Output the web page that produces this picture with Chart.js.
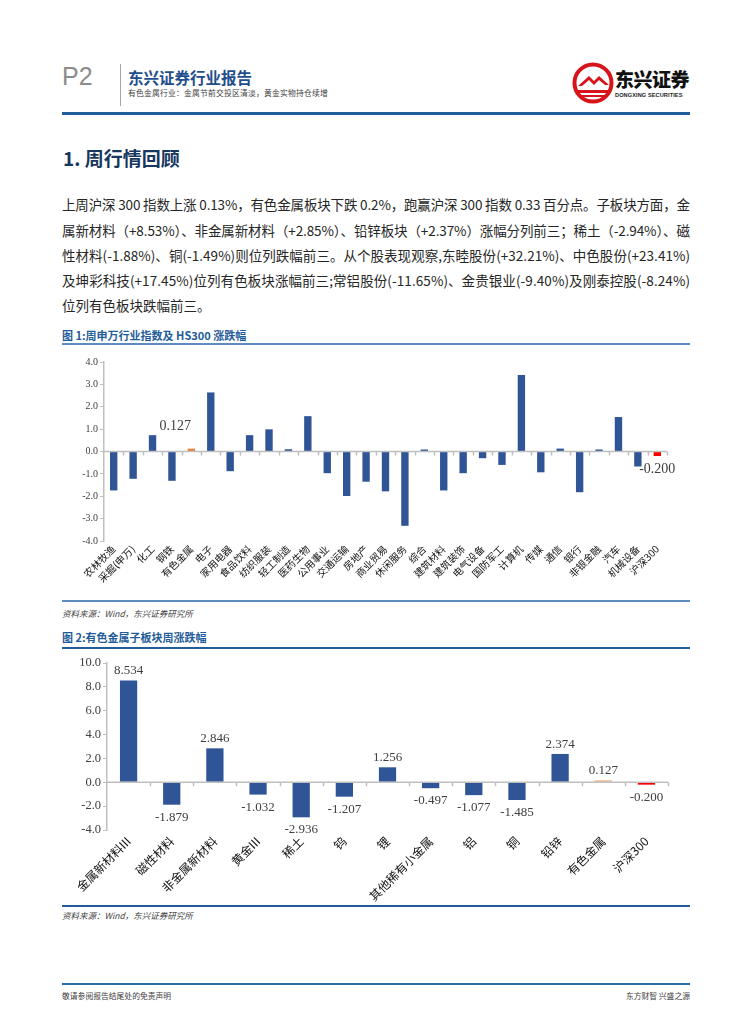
<!DOCTYPE html>
<html>
<head>
<meta charset="utf-8">
<script src="https://cdn.jsdelivr.net/npm/chart.js@4.4.1/dist/chart.umd.min.js"></script>
<style>
  html, body { margin: 0; padding: 0; background: #fff; }
  body { width: 755px; height: 1024px; position: relative; overflow: hidden;
         font-family: "Noto Sans CJK SC", "Noto Sans", sans-serif; color: #222; }
  .abs { position: absolute; }
  .rule { position: absolute; left: 62px; width: 628px; }
  .para-line { position: absolute; left: 62px; width: 628px; font-size: 13.5px; line-height: 20px; white-space: nowrap; color: #262626; }
  .fig-title { position: absolute; left: 62px; font-size: 11px; font-weight: 700; color: #1f5c99; line-height: 14px; }
  .source { position: absolute; left: 62px; font-size: 8.5px; font-style: italic; color: #404040; line-height: 12px; }
  canvas { position: absolute; left: 62px; }
</style>
</head>
<body>

<!-- header -->
<div class="abs" style="left:62px;top:62px;font-family:'Liberation Sans',sans-serif;font-size:25px;font-weight:300;color:#8c8c8c;">P2</div>
<div class="abs" style="left:120px;top:64px;width:1px;height:42px;background:#a6a6a6;"></div>
<div class="abs" style="left:128px;top:67px;font-size:15.5px;font-weight:700;color:#1f4e8c;line-height:20px;">东兴证券行业报告</div>
<div class="abs" style="left:128px;top:88px;font-size:7.8px;color:#404040;line-height:10px;letter-spacing:0.2px;">有色金属行业：金属节前交投区清淡，黄金实物持仓续增</div>
<svg class="abs" style="left:572px;top:62px;" width="42" height="42" viewBox="0 0 42 42">
  <circle cx="21" cy="21" r="18.5" fill="none" stroke="#d7141a" stroke-width="4"/>
  <path d="M6 24 L17 14 L22 19 L27 14 L37 23 L33 23 L27 18 L22 23 L17 18 L10 24 Z" fill="#d7141a"/>
  <path d="M6 28 L36 28 L36 31 L6 31 Z" fill="#d7141a"/>
  <path d="M8 33 L34 33 L32 35 L10 35 Z" fill="#d7141a"/>
</svg>
<div class="abs" style="left:615px;top:67px;font-size:19px;font-weight:900;color:#111;line-height:24px;letter-spacing:-0.5px;">东兴证券</div>
<div class="abs" style="left:615px;top:92px;font-family:'Liberation Sans',sans-serif;font-size:5.6px;font-weight:700;color:#222;letter-spacing:0.1px;">DONGXING SECURITIES</div>
<div class="rule" style="top:112px;height:3px;background:#1f5c99;"></div>

<!-- heading -->
<div class="abs" style="left:63px;top:146px;font-size:19px;font-weight:700;color:#17375e;line-height:24px;">1. 周行情回顾</div>

<!-- paragraph -->
<div class="para-line" style="top:194px;"><span>上周沪深 300 指数上涨 0.13%，有色金属板块下跌 0.2%，跑赢沪深 300 指数 0.33 百分点。子板块方面，金</span></div>
<div class="para-line" style="top:220px;"><span>属新材料（+8.53%）、非金属新材料（+2.85%）、铅锌板块（+2.37%）涨幅分列前三；稀土（-2.94%）、磁</span></div>
<div class="para-line" style="top:245px;"><span>性材料(-1.88%)、铜(-1.49%)则位列跌幅前三。从个股表现观察,东睦股份(+32.21%)、中色股份(+23.41%)</span></div>
<div class="para-line" style="top:270px;"><span>及坤彩科技(+17.45%)位列有色板块涨幅前三;常铝股份(-11.65%)、金贵银业(-9.40%)及刚泰控股(-8.24%)</span></div>
<div class="para-line" style="top:295px;" data-last="1"><span>位列有色板块跌幅前三。</span></div>

<!-- figure 1 -->
<div class="fig-title" style="top:328px;">图 1:周申万行业指数及 HS300 涨跌幅</div>
<div class="rule" style="top:343px;height:2px;background:#5b8dbf;"></div>
<canvas id="chart1" width="628" height="250" style="top:348px;"></canvas>
<div class="rule" style="top:600px;height:2px;background:#5b8dbf;"></div>
<div class="source" style="top:607px;">资料来源：Wind，东兴证券研究所</div>

<!-- figure 2 -->
<div class="fig-title" style="top:630px;">图 2:有色金属子板块周涨跌幅</div>
<div class="rule" style="top:647px;height:2px;background:#1f5c99;"></div>
<canvas id="chart2" width="628" height="252" style="top:652px;"></canvas>
<div class="rule" style="top:905px;height:2px;background:#1f5c99;"></div>
<div class="source" style="top:909px;">资料来源：Wind，东兴证券研究所</div>

<!-- footer -->
<div class="rule" style="top:983px;height:2px;background:#2e6da4;"></div>
<div class="abs" style="left:62px;top:990px;font-size:7.8px;color:#404040;">敬请参阅报告结尾处的免责声明</div>
<div class="abs" style="right:65px;top:990px;font-size:7.8px;color:#404040;">东方财智 兴盛之源</div>

<script>
// ---- data: chart 1 (weekly change of SW industries and HS300, %)
const industryNames = ['农林牧渔', '采掘(申万)', '化工', '钢铁', '有色金属', '电子', '家用电器', '食品饮料',
  '纺织服装', '轻工制造', '医药生物', '公用事业', '交通运输', '房地产', '商业贸易', '休闲服务', '综合',
  '建筑材料', '建筑装饰', '电气设备', '国防军工', '计算机', '传媒', '通信', '银行', '非银金融', '汽车',
  '机械设备', '沪深300'];
const industryChanges = [-1.74, -1.22, 0.73, -1.31, 0.127, 2.64, -0.88, 0.73,
  0.99, 0.10, 1.58, -0.97, -1.99, -1.35, -1.78, -3.32, 0.09,
  -1.74, -0.97, -0.30, -0.60, 3.42, -0.93, 0.13, -1.82, 0.09, 1.54,
  -0.67, -0.200];
const industryTicks = [-4, -3, -2, -1, 0, 1, 2, 3, 4];
const industryLabelled = ['有色金属', '沪深300'];

// ---- data: chart 2 (weekly change of non-ferrous sub-sectors, %)
const subNames = ['金属新材料III', '磁性材料', '非金属新材料', '黄金III', '稀土', '钨', '锂',
  '其他稀有小金属', '铝', '铜', '铅锌', '有色金属', '沪深300'];
const subChanges = [8.534, -1.879, 2.846, -1.032, -2.936, -1.207, 1.256,
  -0.497, -1.077, -1.485, 2.374, 0.127, -0.200];
const subTicks = [-4, -2, 0, 2, 4, 6, 8, 10];

// justify each paragraph line to the full column width
document.querySelectorAll('.para-line').forEach(function (line) {
  if (line.dataset.last) return;
  const span = line.querySelector('span');
  const w = span.getBoundingClientRect().width;
  const n = span.textContent.length;
  span.style.letterSpacing = ((628 - w) / (n - 1)) + 'px';
});

const BLUE = '#2f5597';

// zero line with small category ticks
const baseLinePlugin = {
  id: 'baseLine',
  afterDatasetsDraw(chart) {
    const { ctx, chartArea } = chart;
    const y = chart.scales.y;
    const y0 = y.getPixelForValue(0);
    const n = chart.data.labels.length;
    const step = (chartArea.right - chartArea.left) / n;
    ctx.save();
    ctx.strokeStyle = '#bfbfbf';
    ctx.lineWidth = 1.5;
    ctx.beginPath();
    ctx.moveTo(chartArea.left, y0);
    ctx.lineTo(chartArea.right, y0);
    for (let i = 1; i <= n; i++) {
      const px = Math.round(chartArea.left + i * step) + 0.5;
      ctx.moveTo(px, y0);
      ctx.lineTo(px, y0 + 4);
    }
    ctx.stroke();
    ctx.restore();
  }
};

// value labels above / below bars
const valueLabelPlugin = {
  id: 'valueLabels',
  afterDatasetsDraw(chart, args, opts) {
    const { ctx } = chart;
    const meta = chart.getDatasetMeta(0);
    const values = chart.data.datasets[0].data;
    ctx.save();
    ctx.font = opts.font;
    ctx.fillStyle = '#404040';
    ctx.textAlign = 'center';
    meta.data.forEach(function (bar, i) {
      const name = chart.data.labels[i];
      if (opts.only && opts.only.indexOf(name) < 0) return;
      const v = values[i];
      const off = (opts.offsets && opts.offsets[name]) || [0, 0];
      let y;
      if (v >= 0) { ctx.textBaseline = 'bottom'; y = bar.y - 3; }
      else { ctx.textBaseline = 'top'; y = bar.y + 6; }
      ctx.fillText(v.toFixed(3), bar.x + off[0], y + off[1]);
    });
    ctx.restore();
  }
};

function barColours(names, hsColour, nfColour) {
  return names.map(function (n) {
    if (n === '沪深300') return hsColour;
    if (n === '有色金属') return nfColour;
    return BLUE;
  });
}

function makeChart(id, names, values, ticks, cfg) {
  return new Chart(document.getElementById(id), {
    type: 'bar',
    data: {
      labels: names,
      datasets: [{
        data: values,
        backgroundColor: barColours(names, '#ff0000', cfg.nfColour),
        borderWidth: 0,
        categoryPercentage: 1,
        barPercentage: cfg.barPct,
        minBarLength: 2
      }]
    },
    options: {
      responsive: false,
      animation: false,
      devicePixelRatio: 1,
      layout: { padding: { top: cfg.padTop, right: cfg.padRight, left: 0, bottom: 0 } },
      plugins: {
        legend: { display: false },
        tooltip: { enabled: false },
        valueLabels: { font: cfg.labelFont, only: cfg.only, offsets: cfg.offsets }
      },
      scales: {
        x: {
          grid: { display: false, drawTicks: false },
          border: { display: false },
          afterFit: function (s) { s.height = cfg.xHeight; },
          ticks: {
            autoSkip: false, maxRotation: 45, minRotation: 45, padding: cfg.xPad,
            color: '#111',
            font: { family: 'Noto Sans CJK SC', size: cfg.xFont }
          }
        },
        y: {
          min: ticks[0], max: ticks[ticks.length - 1],
          afterBuildTicks: function (s) { s.ticks = ticks.map(function (v) { return { value: v }; }); },
          afterFit: function (s) { s.width = cfg.yWidth; },
          grid: { drawOnChartArea: false, drawTicks: true, tickLength: 4, color: '#bfbfbf' },
          border: { display: true, color: '#bfbfbf', width: 1.5 },
          ticks: {
            padding: 2, color: '#404040',
            font: { family: 'Liberation Serif', size: cfg.yFont },
            callback: function (v) { return Number(v).toFixed(1); }
          }
        }
      }
    },
    plugins: [baseLinePlugin, valueLabelPlugin]
  });
}

makeChart('chart1', industryNames, industryChanges, industryTicks, {
  nfColour: '#ed7d31', barPct: 0.38,
  padTop: 14, padRight: 23, yWidth: 42, xHeight: 57, xPad: 2,
  xFont: 10, yFont: 10,
  labelFont: '14px "Liberation Serif"',
  only: industryLabelled,
  offsets: { '有色金属': [-16, -12] }
});

makeChart('chart2', subNames, subChanges, subTicks, {
  nfColour: '#f4b183', barPct: 0.4,
  padTop: 11, padRight: 22, yWidth: 45, xHeight: 74, xPad: 4,
  xFont: 12, yFont: 12.5,
  labelFont: '13px "Liberation Serif"',
  only: null,
  offsets: {}
});
</script>
</body>
</html>
